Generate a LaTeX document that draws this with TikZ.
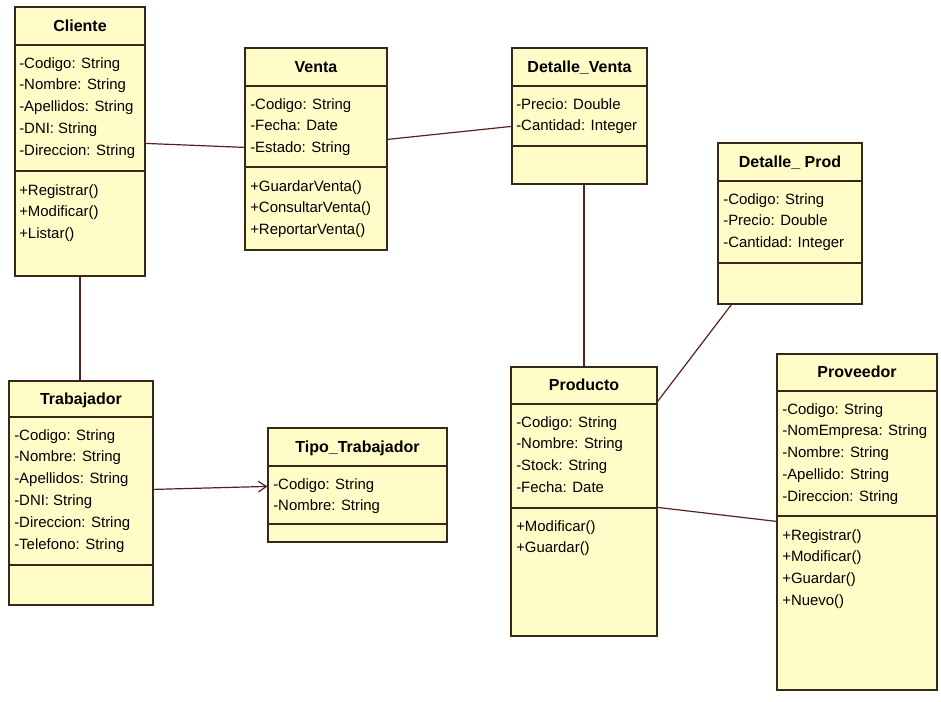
\documentclass[tikz,border=0pt]{standalone}
\usepackage{fontspec}
\setmainfont{Liberation Sans}
\usetikzlibrary{fit,calc,arrows.meta}

\definecolor{classfill}{RGB}{255,252,200}
\definecolor{classline}{RGB}{55,40,25}
\definecolor{assocline}{RGB}{85,35,30}

\tikzset{
  classbox/.style={draw=classline, fill=classfill, line width=0.9pt, inner sep=0pt},
  divider/.style={draw=classline, line width=0.9pt},
  classtitle/.style={anchor=base, inner sep=0pt, font=\fontsize{12}{14}\selectfont\bfseries},
  member/.style={anchor=base west, inner sep=0pt, font=\fontsize{11.2}{14}\selectfont},
  assoc/.style={draw=assocline, line width=0.9pt},
  navarrow/.style={-{Straight Barb[length=6pt,width=8pt]}}
}

% #1 name, #2 x1, #3 y1, #4 x2, #5 y2, #6 title divider, #7 attribute divider, #8 title
\newcommand\umlclass[8]{%
  \node[classbox, fit={(#2,#3) (#4,#5)}] (#1) {};
  \draw[divider] (#2,#6) -- (#4,#6);
  \draw[divider] (#2,#7) -- (#4,#7);
  \node[classtitle] at ({(#2+#4)/2}, {(#3+#6)/2+5}) {#8};
}
% #1 x, #2 first baseline, #3 list of lines
\newcommand\memberlines[3]{%
  \foreach \t [count=\i from 0] in {#3}
    \node[member] at (#1, {#2+\i*21.8}) {\t};
}

\begin{document}
\begin{tikzpicture}[x=0.75pt, y=-0.75pt]
\useasboundingbox[fill=white] (0,0) rectangle (941,701);

% Cliente
\umlclass{cliente}{15}{7}{145}{276}{45}{171}{Cliente}
\memberlines{19}{68}{-Codigo: String,-Nombre: String,-Apellidos: String,-DNI: String,-Direccion: String}
\memberlines{19}{195}{+Registrar(),+Modificar(),+Listar()}

% Venta
\umlclass{venta}{245}{48}{387}{250}{86}{167}{Venta}
\memberlines{250}{109}{-Codigo: String,-Fecha: Date,-Estado: String}
\memberlines{250}{191}{+GuardarVenta(),+ConsultarVenta(),+ReportarVenta()}

% Detalle_Venta
\umlclass{dventa}{512}{48}{647}{184}{86}{146}{Detalle\_Venta}
\memberlines{516}{109}{-Precio: Double,-Cantidad: Integer}

% Detalle_Prod
\umlclass{dprod}{718}{143}{862}{304}{181}{263}{Detalle\_ Prod}
\memberlines{723}{204}{-Codigo: String,-Precio: Double,-Cantidad: Integer}

% Trabajador
\umlclass{trabajador}{9}{381}{153}{605}{417}{565}{Trabajador}
\memberlines{14}{440}{-Codigo: String,-Nombre: String,-Apellidos: String,-DNI: String,-Direccion: String,-Telefono: String}

% Tipo_Trabajador
\umlclass{tipo}{268}{428}{447}{542}{466}{524}{Tipo\_Trabajador}
\memberlines{273}{489}{-Codigo: String,-Nombre: String}

% Producto
\umlclass{producto}{511}{367}{657}{636}{404}{508}{Producto}
\memberlines{516}{427}{-Codigo: String,-Nombre: String,-Stock: String,-Fecha: Date}
\memberlines{516}{531}{+Modificar(),+Guardar()}

% Proveedor
\umlclass{proveedor}{777}{354}{937}{690}{391}{516}{Proveedor}
\memberlines{782}{414}{-Codigo: String,-NomEmpresa: String,-Nombre: String,-Apellido: String,-Direccion: String}
\memberlines{782}{540}{+Registrar(),+Modificar(),+Guardar(),+Nuevo()}

% Associations
\draw[assoc] ($(cliente.north east)+(0,137)$) -- ($(venta.north west)+(0,100)$);
\draw[assoc] (cliente.south) -- (cliente.south |- trabajador.north);
\draw[assoc] ($(venta.north east)+(0,92)$) -- ($(dventa.north west)+(0,79)$);
\draw[assoc] (producto.north) -- (producto.north |- dventa.south);
\draw[assoc] ($(producto.north east)+(0,35)$) -- ($(dprod.south west)+(14,0)$);
\draw[assoc] ($(producto.north east)+(0,141)$) -- ($(proveedor.north west)+(0,168)$);
\draw[assoc, navarrow] ($(trabajador.north east)+(0,109)$) -- ($(tipo.north west)+(0,59)$);
\end{tikzpicture}
\end{document}
